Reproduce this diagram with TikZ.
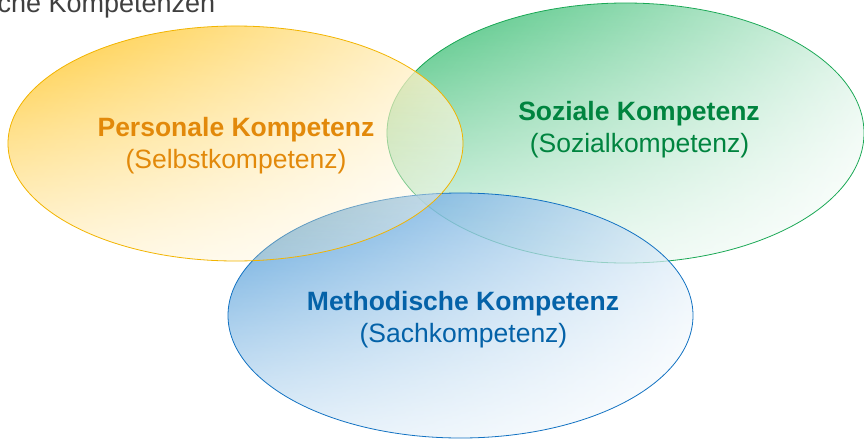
\documentclass[tikz,border=0pt]{standalone}
\usepackage{fontspec}
\setmainfont{Liberation Sans}
\usetikzlibrary{fadings,shadings}

\definecolor{yelC}{HTML}{FFC420}
\definecolor{yelLine}{HTML}{F2B400}
\definecolor{yelText}{HTML}{E2890A}
\definecolor{grnC}{HTML}{2DB96A}
\definecolor{grnLine}{HTML}{1AA855}
\definecolor{grnText}{HTML}{00843F}
\definecolor{bluC}{HTML}{4696D6}
\definecolor{bluLine}{HTML}{1272C2}
\definecolor{bluText}{HTML}{0462A8}
\definecolor{headGray}{HTML}{404040}

% fill gets lighter towards the lower edge of each ellipse
\tikzfading[name=fadedown, top color=transparent!0, bottom color=transparent!75]

\tikzset{
  setfill/.style={path fading=fadedown, fill opacity=0.9,
    upper left=#1, upper right=#1!22, lower left=#1!70, lower right=white},
  rim/.style={draw=#1, line width=0.8pt},
  title/.style={font=\fontsize{26.5}{31}\selectfont\bfseries, anchor=base, inner sep=0pt},
  subtitle/.style={font=\fontsize{26.5}{31}\selectfont, anchor=base, inner sep=0pt}
}

\begin{document}
\begin{tikzpicture}[x=1pt,y=-1pt]
\useasboundingbox (0,0) rectangle (864,439);
\clip (0,0) rectangle (864,439);

% heading, running off the top edge
\node[anchor=base east, inner sep=0pt, text=headGray,
      font=\fontsize{27}{32}\selectfont] (head) at (215.5,12.7) {che Kompetenzen};

% social competence (green)
\shade[setfill=grnC] (625.5,133) ellipse [x radius=238.5pt, y radius=130pt];
\draw[rim=grnLine] (625.5,133) ellipse [x radius=238.5pt, y radius=130pt];

% methodical competence (blue)
\shade[setfill=bluC] (460.5,315.5) ellipse [x radius=232.5pt, y radius=122.5pt];
\draw[rim=bluLine] (460.5,315.5) ellipse [x radius=232.5pt, y radius=122.5pt];

% personal competence (yellow)
\shade[setfill=yelC] (235.5,143.5) ellipse [x radius=227.5pt, y radius=117.5pt];
\draw[rim=yelLine] (235.5,143.5) ellipse [x radius=227.5pt, y radius=117.5pt];

% labels
\node[title, text=yelText] (persT) at (236,136) {Personale Kompetenz};
\node[subtitle, text=yelText] (persS) at (236,168) {(Selbstkompetenz)};

\node[title, text=grnText] (sozT) at (639,120.5) {Soziale Kompetenz};
\node[subtitle, text=grnText] (sozS) at (639.5,152.5) {(Sozialkompetenz)};

\node[title, text=bluText] (methT) at (463,310) {Methodische Kompetenz};
\node[subtitle, text=bluText] (methS) at (463.5,342.7) {(Sachkompetenz)};
\end{tikzpicture}
\end{document}
